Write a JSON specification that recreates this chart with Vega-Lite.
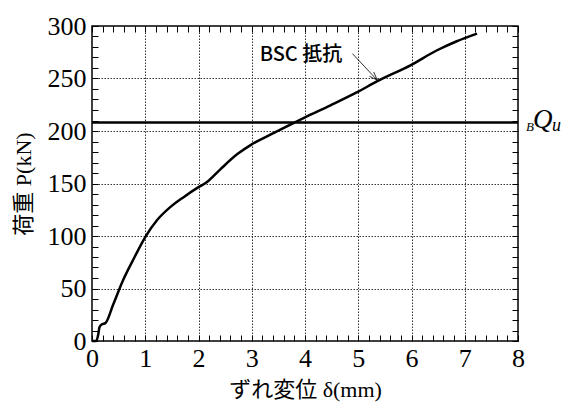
{
  "$schema": "https://vega.github.io/schema/vega-lite/v6.json",
  "width": 426,
  "height": 315,
  "autosize": "none",
  "padding": {"left": 92, "top": 26, "right": 43, "bottom": 67},
  "background": "white",
  "config": {
    "view": {"stroke": "black", "strokeWidth": 1.5},
    "axis": {
      "labelFont": "Liberation Serif",
      "labelFontSize": 26,
      "labelColor": "black",
      "titleFont": "Liberation Serif, Noto Sans CJK JP",
      "titleFontSize": 22,
      "titleFontWeight": "normal",
      "titleColor": "black",
      "domain": false,
      "gridColor": "#333",
      "gridDash": [1.5, 1.5],
      "gridWidth": 1,
      "labelOverlap": false,
      "labelFlush": false,
      "labelBound": false
    }
  },
  "datasets": {
    "curve": [
      {"d": 0, "p": 0}, {"d": 0.08, "p": 0}, {"d": 0.12, "p": 7}, {"d": 0.14, "p": 13},
      {"d": 0.19, "p": 16}, {"d": 0.25, "p": 17}, {"d": 0.4, "p": 35}, {"d": 0.575, "p": 57},
      {"d": 0.8, "p": 80}, {"d": 1.0, "p": 99}, {"d": 1.22, "p": 115}, {"d": 1.47, "p": 127.5},
      {"d": 1.72, "p": 137}, {"d": 2.0, "p": 146.5}, {"d": 2.16, "p": 151.4}, {"d": 2.41, "p": 163.5},
      {"d": 2.73, "p": 178}, {"d": 3.0, "p": 187.3}, {"d": 3.35, "p": 196.5}, {"d": 3.66, "p": 204.5},
      {"d": 4.0, "p": 213}, {"d": 4.48, "p": 224.5}, {"d": 4.98, "p": 237}, {"d": 5.36, "p": 247.5},
      {"d": 5.98, "p": 262.6}, {"d": 6.48, "p": 276.9}, {"d": 6.85, "p": 285.5}, {"d": 7.23, "p": 292.8}
    ],
    "arrow": [
      {"x1": 4.89, "y1": 273.7, "x2": 5.36, "y2": 248.3},
      {"x1": 5.29, "y1": 256.2, "x2": 5.36, "y2": 248.3},
      {"x1": 5.21, "y1": 252.2, "x2": 5.36, "y2": 248.3}
    ]
  },
  "layer": [
    {
      "data": {"name": "curve"},
      "mark": {"type": "line", "color": "black", "strokeWidth": 2.5, "strokeJoin": "round", "interpolate": "monotone"},
      "encoding": {
        "x": {
          "field": "d", "type": "quantitative",
          "scale": {"domain": [0, 8], "nice": false, "zero": false},
          "axis": {
            "orient": "bottom",
            "offset": -6,
            "ticks": true,
            "tickSize": 6,
            "tickColor": "#000000",
            "tickWidth": 1,
            "title": "ずれ変位 δ(mm)",
            "titlePadding": 8,
            "labelPadding": 4,
            "values": [0,0.2,0.4,0.6,0.8,1,1.2,1.4,1.6,1.8,2,2.2,2.4,2.6,2.8,3,3.2,3.4,3.6,3.8,4,4.2,4.4,4.6,4.8,5,5.2,5.4,5.6,5.8,6,6.2,6.4,6.6,6.8,7,7.2,7.4,7.6,7.8,8],
            "labelExpr": "datum.value % 1 === 0 ? format(datum.value, 'd') : ''",
            "gridOpacity": {"condition": {"test": "datum.value % 1 === 0 && datum.value > 0 && datum.value < 8", "value": 1}, "value": 0}
          }
        },
        "y": {
          "field": "p", "type": "quantitative",
          "scale": {"domain": [0, 300], "nice": false, "zero": false},
          "axis": {
            "orient": "left",
            "offset": -6,
            "ticks": true,
            "tickSize": 6,
            "tickColor": "#000000",
            "tickWidth": 1,
            "title": "荷重 P(kN)",
            "titlePadding": 12,
            "labelPadding": 6,
            "values": [0,10,20,30,40,50,60,70,80,90,100,110,120,130,140,150,160,170,180,190,200,210,220,230,240,250,260,270,280,290,300],
            "labelExpr": "datum.value % 50 === 0 ? format(datum.value, 'd') : ''",
            "gridOpacity": {"condition": {"test": "datum.value % 50 === 0 && datum.value > 0 && datum.value < 300", "value": 1}, "value": 0}
          }
        }
      }
    },
    {
      "data": {"values": [{"q": 208, "d": 8}]},
      "mark": {"type": "rule", "color": "black", "strokeWidth": 2.5},
      "encoding": {
        "x": {
          "field": "d", "type": "quantitative",
          "scale": {"domain": [0, 8], "nice": false, "zero": false},
          "axis": {
            "orient": "top", "offset": -6, "ticks": true, "tickSize": 6, "tickColor": "#000000", "tickWidth": 1, "title": null, "labels": false, "grid": false,
            "values": [0,0.2,0.4,0.6,0.8,1,1.2,1.4,1.6,1.8,2,2.2,2.4,2.6,2.8,3,3.2,3.4,3.6,3.8,4,4.2,4.4,4.6,4.8,5,5.2,5.4,5.6,5.8,6,6.2,6.4,6.6,6.8,7,7.2,7.4,7.6,7.8,8]
          }
        },
        "y": {
          "field": "q", "type": "quantitative",
          "scale": {"domain": [0, 300], "nice": false, "zero": false},
          "axis": {
            "orient": "right", "offset": -6, "ticks": true, "tickSize": 6, "tickColor": "#000000", "tickWidth": 1, "title": null, "labels": false, "grid": false,
            "values": [0,10,20,30,40,50,60,70,80,90,100,110,120,130,140,150,160,170,180,190,200,210,220,230,240,250,260,270,280,290,300]
          }
        },
        "x2": {"datum": 0}
      }
    },
    {
      "data": {"name": "arrow"},
      "mark": {"type": "rule", "color": "black", "strokeWidth": 0.8},
      "encoding": {
        "x": {"field": "x1", "type": "quantitative", "axis": null},
        "y": {"field": "y1", "type": "quantitative", "axis": null},
        "x2": {"field": "x2"},
        "y2": {"field": "y2"}
      }
    },
    {
      "data": {"values": [{"d": 4.7, "p": 272, "t": "BSC 抵抗"}]},
      "mark": {"type": "text", "align": "right", "baseline": "middle", "font": "Noto Sans CJK JP", "fontSize": 20, "fontWeight": 500, "color": "black"},
      "encoding": {
        "x": {"field": "d", "type": "quantitative", "axis": null},
        "y": {"field": "p", "type": "quantitative", "axis": null},
        "text": {"field": "t"}
      }
    },
    {
      "data": {"values": [{"d": 8, "p": 208, "t": "B"}]},
      "mark": {"type": "text", "align": "left", "baseline": "alphabetic", "font": "Liberation Serif", "fontStyle": "italic", "fontSize": 13, "dx": 8, "dy": 8, "color": "black"},
      "encoding": {
        "x": {"field": "d", "type": "quantitative", "axis": null},
        "y": {"field": "p", "type": "quantitative", "axis": null},
        "text": {"field": "t"}
      }
    },
    {
      "data": {"values": [{"d": 8, "p": 208, "t": "Q"}]},
      "mark": {"type": "text", "align": "left", "baseline": "alphabetic", "font": "Liberation Serif", "fontStyle": "italic", "fontSize": 27, "dx": 15, "dy": 5, "color": "black"},
      "encoding": {
        "x": {"field": "d", "type": "quantitative", "axis": null},
        "y": {"field": "p", "type": "quantitative", "axis": null},
        "text": {"field": "t"}
      }
    },
    {
      "data": {"values": [{"d": 8, "p": 208, "t": "u"}]},
      "mark": {"type": "text", "align": "left", "baseline": "alphabetic", "font": "Liberation Serif", "fontStyle": "italic", "fontSize": 18, "dx": 34, "dy": 8, "color": "black"},
      "encoding": {
        "x": {"field": "d", "type": "quantitative", "axis": null},
        "y": {"field": "p", "type": "quantitative", "axis": null},
        "text": {"field": "t"}
      }
    }
  ],
  "resolve": {"axis": {"x": "independent", "y": "independent"}}
}
